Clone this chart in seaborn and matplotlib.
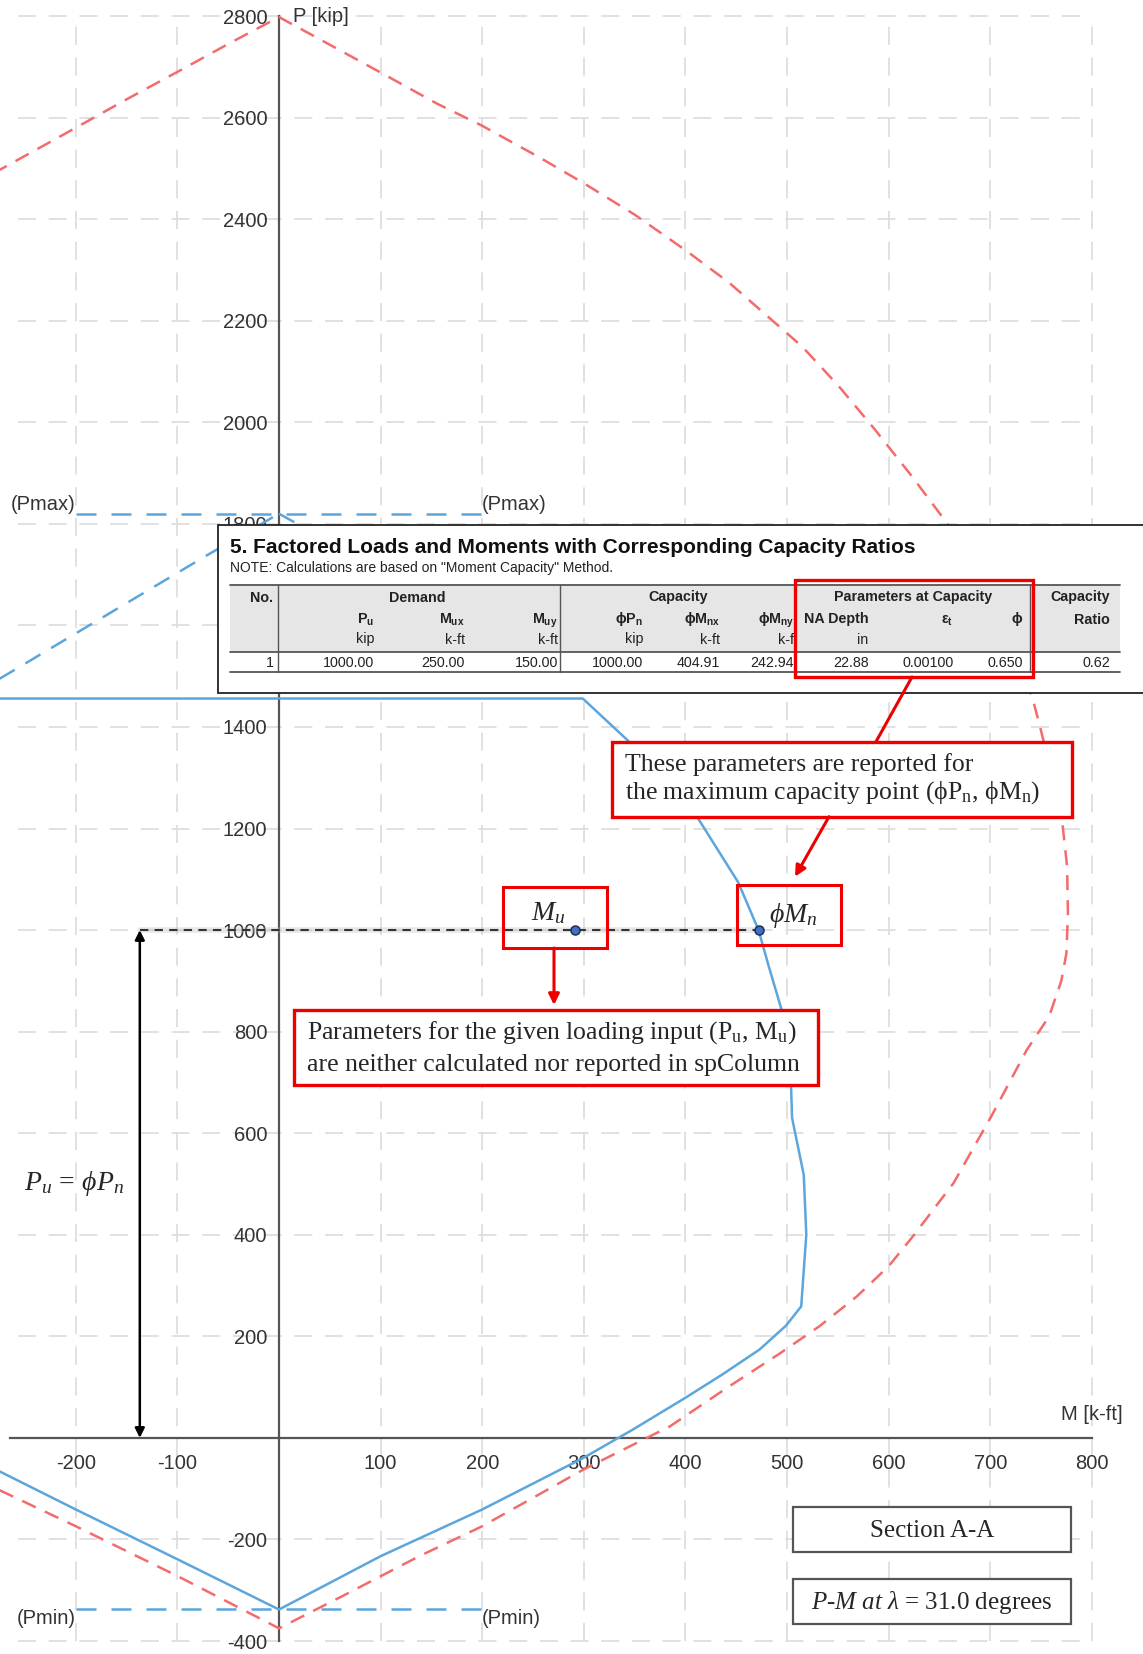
import math

import matplotlib
matplotlib.use("Agg")
import matplotlib.pyplot as plt
from matplotlib.patches import Rectangle
from matplotlib.ticker import FuncFormatter
import seaborn as sns

W, H, DPI = 1143, 1654, 100

RED = "#f46b6b"
BLUE = "#5ba6dc"
BOX_RED = "#ee0000"
GRID = "#dedede"
SERIF = ["Liberation Serif", "DejaVu Serif"]

# Diagrama nominal (Pn, Mn) - tracejado vermelho
nominal_m = [-275, -200, -100, 0, 63, 138, 200, 300, 385, 442, 492, 532, 569, 600,
             624, 664, 701, 736, 758, 770, 775, 776.5, 775.7, 770, 750, 741, 658,
             622, 586, 551, 515, 479, 443, 400, 350, 299, 256, 199, 156, 98, 34, 0,
             -50, -100, -150, -200, -275]
nominal_p = [-103, -174, -272, -375, -311, -233, -174, -62, 23, 100, 165, 220, 279, 338,
             397, 502, 633, 764, 830, 900, 954, 1033, 1125, 1230, 1393, 1462, 1800,
             1896, 1987, 2071, 2149, 2212, 2275, 2339, 2409, 2472, 2522, 2585, 2627, 2691, 2761, 2798,
             2745, 2690, 2636, 2580, 2497]

# Diagrama fatorado (phi Pn, phi Mn) - linha azul
factored_m = [-275, 299, 343, 411.5, 452, 472, 482, 494.7, 500, 504, 505, 516.5, 519, 514,
              499, 473, 436.5, 400, 348, 334, 300, 200, 100, 0, -100, -200, -266, -275]
factored_p = [1456, 1456, 1374, 1223, 1094, 1000, 929, 843, 744, 692, 630, 518, 400, 259,
              221, 174, 125, 79, 16, 0, -39, -141, -233, -338, -239, -141, -75, -66]

# Parte do diagrama fatorado acima do limite Pmax - tracejado azul
cap_left_m = [-275, -264, -71, 0]
cap_left_p = [1495, 1508, 1738, 1820]
cap_right_m = [0, 64, 166, 260, 299]
cap_right_p = [1820, 1749, 1639, 1520, 1456]

p_max = 1820
p_min = -337.5
limit_m = [-200, 200]

m_ticks = [-200, -100, 0, 100, 200, 300, 400, 500, 600, 700, 800]
p_ticks = [-400, -200, 0, 200, 400, 600, 800, 1000, 1200, 1400, 1600, 1800,
           2000, 2200, 2400, 2600, 2800]

# Tabela 5 (linha 1)
pu, mux, muy = 1000.00, 250.00, 150.00
phi_pn, phi_mnx, phi_mny = 1000.00, 404.91, 242.94
na_depth, eps_t, phi, ratio = 22.88, 0.00100, 0.650, 0.62

mu = math.hypot(mux, muy)
phi_mn = math.hypot(phi_mnx, phi_mny)
arrow_m = -137

sns.set_theme(style="white")
plt.rcParams["font.family"] = ["Liberation Sans", "DejaVu Sans"]
plt.rcParams["axes.unicode_minus"] = False
plt.rcParams["mathtext.fontset"] = "custom"
plt.rcParams["mathtext.rm"] = "Liberation Serif"
plt.rcParams["mathtext.it"] = "Liberation Serif:italic"
plt.rcParams["mathtext.bf"] = "Liberation Sans:bold"
plt.rcParams["mathtext.sf"] = "Liberation Sans"

fig = plt.figure(figsize=(W / DPI, H / DPI), dpi=DPI)
ax = fig.add_axes([0, 0, 1, 1])
ax.set_xlim(-274.6, 850.4)
ax.set_ylim(-425.6, 2831.6)


def fxy(x, y):
    return x / W, 1 - y / H


def ptext(x, y, s, **kw):
    fig.text(*fxy(x, y), s, **kw)


def pbox(x0, y0, x1, y1, ec, lw, fc="white", z=10):
    fig.add_artist(Rectangle(fxy(x0, y1), (x1 - x0) / W, (y1 - y0) / H,
                             transform=fig.transFigure, facecolor=fc,
                             edgecolor=ec, linewidth=lw, zorder=z))


def pline(x0, y0, x1, y1, color, lw, z=12):
    fig.add_artist(matplotlib.lines.Line2D([x0 / W, x1 / W], [1 - y0 / H, 1 - y1 / H],
                                           transform=fig.transFigure, color=color,
                                           linewidth=lw, zorder=z))


def parrow(x0, y0, x1, y1):
    fig.add_artist(matplotlib.patches.FancyArrowPatch(
        fxy(x0, y0), fxy(x1, y1), transform=fig.transFigure, arrowstyle="-|>",
        mutation_scale=16, color=BOX_RED, linewidth=2.2, shrinkA=0, shrinkB=0,
        zorder=12))


# grade
ax.hlines(p_ticks, -257, 800, colors=GRID, linestyles=(0, (10, 7)),
          linewidth=1.3, zorder=0)
ax.vlines([m for m in m_ticks if m != 0], -400, 2800, colors=GRID,
          linestyles=(0, (10, 7)), linewidth=1.3, zorder=0)

# eixos
for s in ["top", "right"]:
    ax.spines[s].set_visible(False)
ax.spines["left"].set_position(("data", 0))
ax.spines["bottom"].set_position(("data", 0))
ax.spines["left"].set_bounds(-400, 2800)
ax.spines["bottom"].set_bounds(-265, 800)
for s in ["left", "bottom"]:
    ax.spines[s].set_color("#555555")
    ax.spines[s].set_linewidth(1.6)

fmt = FuncFormatter(lambda v, _: "" if v == 0 else f"{v:.0f}")
ax.set_xticks(m_ticks)
ax.set_yticks(p_ticks)
ax.xaxis.set_major_formatter(fmt)
ax.yaxis.set_major_formatter(fmt)
ax.tick_params(direction="inout", length=13, width=1.2, color="#444444",
               labelsize=14.5, labelcolor="#333333")
ax.tick_params(axis="y", pad=2)
ax.tick_params(axis="x", pad=5)
ax.set_xlabel("")
ax.set_ylabel("")

ax.annotate("P [kip]", xy=(0, 2800), xytext=(10, 0), textcoords="offset points",
            ha="left", va="center", fontsize=14.5, color="#333333")
ax.annotate("M [k-ft]", xy=(800, 0), xytext=(22, 17), textcoords="offset points",
            ha="right", va="center", fontsize=14.5, color="#333333")

# curvas
sns.lineplot(x=nominal_m, y=nominal_p, sort=False, estimator=None, color=RED,
             linewidth=1.8, linestyle=(0, (6, 4)), ax=ax, zorder=3)
sns.lineplot(x=factored_m, y=factored_p, sort=False, estimator=None, color=BLUE,
             linewidth=1.8, ax=ax, zorder=3)
sns.lineplot(x=cap_left_m, y=cap_left_p, sort=False, estimator=None, color=BLUE,
             linewidth=1.8, linestyle=(0, (7, 5)), ax=ax, zorder=3)
sns.lineplot(x=cap_right_m, y=cap_right_p, sort=False, estimator=None, color=BLUE,
             linewidth=1.8, linestyle=(0, (7, 5)), ax=ax, zorder=3)
sns.lineplot(x=limit_m, y=[p_max, p_max], color=BLUE, linewidth=1.8,
             linestyle=(0, (8, 6)), ax=ax, zorder=3)
sns.lineplot(x=limit_m, y=[p_min, p_min], color=BLUE, linewidth=1.8,
             linestyle=(0, (8, 6)), ax=ax, zorder=3)

for m, ha in zip(limit_m, ["right", "left"]):
    ax.text(m, p_max, "(Pmax)", ha=ha, va="bottom", fontsize=14.5, color="#333333")
    ax.text(m, p_min, "(Pmin)", ha=ha, va="top", fontsize=14.5, color="#333333")

# ponto de carregamento
ax.plot([arrow_m, phi_mn], [pu, pu], color="#bbbbbb", linewidth=4, alpha=0.35, zorder=4)
sns.lineplot(x=[arrow_m, phi_mn], y=[pu, pu], color="#333333", linewidth=1.5,
             linestyle=(0, (4, 3)), ax=ax, zorder=4)
ax.scatter([mu, phi_mn], [pu, pu], s=42, color="#3f6fc6", edgecolor="#1d3157",
           linewidth=1.1, zorder=6)
ax.annotate("", xy=(arrow_m, 0), xytext=(arrow_m, pu),
            arrowprops=dict(arrowstyle="<|-|>", color="black", lw=1.8,
                            mutation_scale=14, shrinkA=0, shrinkB=0), zorder=6)
ptext(74, 1184, r"$P_u\,=\,\phi P_n$", ha="center", va="center", fontsize=20)

# rótulos Mu / phi Mn
pbox(503, 887, 607, 948, BOX_RED, 2.2, fc="none", z=11)
ptext(548, 913, r"$M_u$", ha="center", va="center", fontsize=20, zorder=12)
pbox(737, 885, 841, 945, BOX_RED, 2.2, fc="none", z=11)
ptext(793, 915, r"$\phi M_n$", ha="center", va="center", fontsize=20, zorder=12)

# caixa explicativa 1
pbox(611.7, 741.7, 1071.5, 816.7, BOX_RED, 2.4, z=11)
ptext(625, 765, "These parameters are reported for", ha="left", va="center",
      fontsize=18.5, family=SERIF, zorder=12)
ptext(625, 793, r"the maximum capacity point (ϕP$_\mathrm{n}$, ϕM$_\mathrm{n}$)",
      ha="left", va="center", fontsize=18.5, family=SERIF, zorder=12)
pline(912, 677, 876, 741.7, BOX_RED, 2.2)
parrow(829, 816.7, 795, 876.7)

# caixa explicativa 2
parrow(554, 948, 554, 1005)
pbox(294, 1010, 817.5, 1085, BOX_RED, 2.4, z=11)
ptext(307, 1033, r"Parameters for the given loading input (P$_\mathrm{u}$, M$_\mathrm{u}$)",
      ha="left", va="center", fontsize=18.5, family=SERIF, zorder=12)
ptext(307, 1065, "are neither calculated nor reported in spColumn",
      ha="left", va="center", fontsize=18.5, family=SERIF, zorder=12)

# caixas de seção
pbox(792.7, 1507, 1071, 1552, "#555555", 1.6, z=11)
ptext(931.7, 1531, "Section A-A", ha="center", va="center", fontsize=18,
      family=SERIF, zorder=12)
pbox(792.7, 1579, 1071, 1624, "#555555", 1.6, z=11)
ptext(931.7, 1602, r"$P$-$M$ $at$ $\lambda$ = 31.0 degrees", ha="center", va="center",
      fontsize=18, family=SERIF, zorder=12)

# tabela 5
pbox(218, 525, W + 20, 693, "#222222", 1.3, z=10)
ptext(230, 553, "5. Factored Loads and Moments with Corresponding Capacity Ratios",
      ha="left", va="baseline", fontsize=15, fontweight="bold", color="#111111", zorder=12)
ptext(230, 572, 'NOTE: Calculations are based on "Moment Capacity" Method.',
      ha="left", va="baseline", fontsize=10, color="#222222", zorder=12)
pbox(230, 585, 1120, 651.7, "none", 0, fc="#e6e6e6", z=11)
for y in [585, 651.7, 671.7]:
    pline(230, y, 1120, y, "#555555", 1.3)
for x in [278.2, 559.6, 795.3, 1029.8]:
    pline(x, 585, x, 671.7, "#555555", 1.0)

col_x = [273.4, 374.4, 464.6, 557.8, 643, 720, 794, 868.7, 953.4, 1022.6, 1109.8]
head_2 = ["", r"P$_\mathbf{u}$", r"M$_\mathbf{ux}$", r"M$_\mathbf{uy}$", r"ϕP$_\mathbf{n}$",
          r"ϕM$_\mathbf{nx}$", r"ϕM$_\mathbf{ny}$", "NA Depth", r"ε$_\mathbf{t}$", "ϕ", "Ratio"]
units = ["", "kip", "k-ft", "k-ft", "kip", "k-ft", "k-f", "in", "", "", ""]
row_1 = ["1", f"{pu:.2f}", f"{mux:.2f}", f"{muy:.2f}", f"{phi_pn:.2f}", f"{phi_mnx:.2f}",
         f"{phi_mny:.2f}", f"{na_depth:.2f}", f"{eps_t:.5f}", f"{phi:.3f}", f"{ratio:.2f}"]

tkw = dict(fontsize=10.3, color="#222222", zorder=13)
ptext(273.4, 601.5, "No.", ha="right", va="baseline", fontweight="bold", **tkw)
ptext(417.7, 601.5, "Demand", ha="center", va="baseline", fontweight="bold", **tkw)
ptext(678, 601.5, "Capacity", ha="center", va="baseline", fontweight="bold", **tkw)
ptext(912.6, 601.5, "Parameters at Capacity", ha="center", va="baseline",
      fontweight="bold", **tkw)
ptext(1109.8, 601.5, "Capacity", ha="right", va="baseline", fontweight="bold", **tkw)
for x, h2, u, v in zip(col_x, head_2, units, row_1):
    if h2:
        ptext(x, 623.5, h2, ha="right", va="baseline", fontweight="bold", **tkw)
    if u:
        ptext(x, 643.5, u, ha="right", va="baseline", **tkw)
    ptext(x, 667, v, ha="right", va="baseline", **tkw)

pbox(795.3, 580, 1032.8, 676.7, BOX_RED, 2.4, fc="none", z=14)

fig.savefig("out.png", dpi=DPI)
plt.close(fig)
